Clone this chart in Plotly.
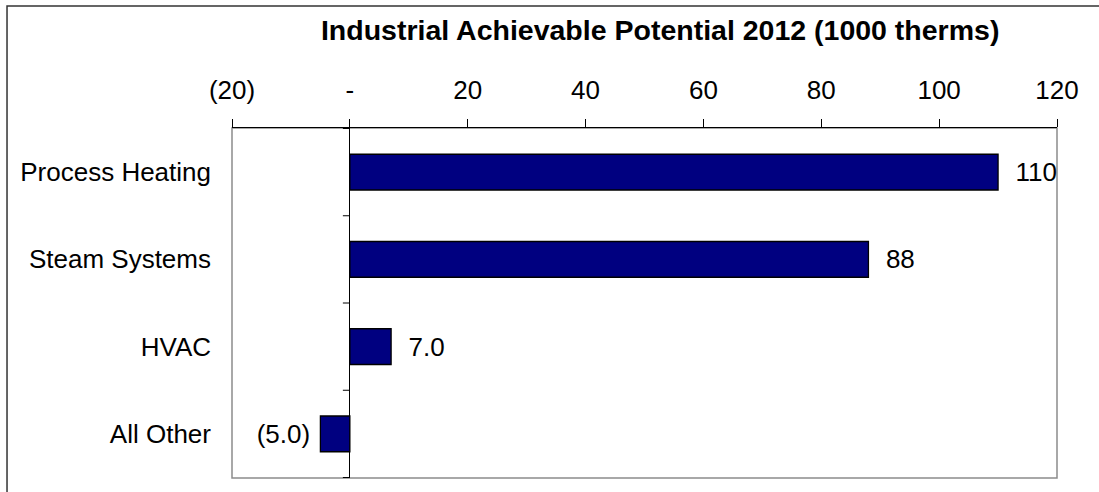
import plotly.graph_objects as go

# Achievable potential by end use, 2012 (1000 therms)
categories = ["Process Heating", "Steam Systems", "HVAC", "All Other"]
potential = [110, 88, 7.0, -5.0]

# Top axis ticks (negative values shown in parentheses, zero as a dash)
tick_values = [-20, 0, 20, 40, 60, 80, 100, 120]
tick_labels = ["(20)", "-", "20", "40", "60", "80", "100", "120"]

title_text = "Industrial Achievable Potential 2012 (1000 therms)"

FONT = "Liberation Sans, Arial, sans-serif"
NBSP = "\u00a0"


def fmt(v):
    """Accounting-style label: one decimal below 10, parentheses for negatives."""
    body = f"{abs(v):.0f}" if abs(v) >= 10 else f"{abs(v):.1f}"
    if v < 0:
        return f"({body})" + NBSP
    return NBSP + NBSP + body


labels = [fmt(v) for v in potential]

fig = go.Figure()
fig.add_trace(
    go.Bar(
        x=potential,
        y=categories,
        orientation="h",
        marker=dict(color="#000080", line=dict(color="#000000", width=1.3)),
        text=labels,
        textposition="outside",
        textfont=dict(family=FONT, size=26, color="#000000"),
        constraintext="none",
        cliponaxis=False,
        hoverinfo="skip",
    )
)

# Category separator ticks on the zero line
n = len(categories)
shapes = []
for b in range(n + 1):
    yb = b - 0.5
    shapes.append(
        dict(
            type="line", xref="x", yref="y",
            xsizemode="pixel", xanchor=0, x0=-7, x1=0,
            y0=yb, y1=yb,
            line=dict(color="#000000", width=1),
        )
    )

# Plot area border (grey) and the outer chart frame
shapes.append(
    dict(type="rect", xref="paper", yref="paper", x0=0, x1=1, y0=0, y1=1,
         line=dict(color="#8c8c8c", width=1.5), layer="below")
)
shapes.append(
    dict(type="rect", xref="paper", yref="paper",
         x0=-0.2727, x1=1.1, y0=-0.2, y1=1.3486,
         line=dict(color="#333333", width=1.5), layer="below")
)

fig.update_layout(
    width=1099,
    height=492,
    margin=dict(l=232, r=42, t=128, b=14),
    paper_bgcolor="#ffffff",
    plot_bgcolor="#ffffff",
    showlegend=False,
    bargap=0.59,
    font=dict(family=FONT, size=26, color="#000000"),
    title=dict(
        text=f"<b>{title_text}</b>",
        font=dict(family=FONT, size=28.5, color="#000000"),
        x=0.519, xref="paper", xanchor="center",
        y=1 - 30 / 492, yref="container", yanchor="middle",
    ),
    xaxis=dict(
        side="top",
        range=[-20, 120],
        tickmode="array",
        tickvals=tick_values,
        ticktext=tick_labels,
        ticks="outside",
        ticklen=8,
        tickcolor="#000000",
        tickwidth=1,
        showline=True,
        linecolor="#000000",
        linewidth=1,
        showgrid=False,
        zeroline=True,
        zerolinecolor="#000000",
        zerolinewidth=1,
        ticklabelstandoff=10,
        tickfont=dict(family=FONT, size=26, color="#000000"),
        fixedrange=True,
    ),
    yaxis=dict(
        type="category",
        categoryorder="array",
        categoryarray=categories,
        autorange="reversed",
        showline=False,
        ticks="",
        showgrid=False,
        ticklabelstandoff=20,
        tickfont=dict(family=FONT, size=26, color="#000000"),
        fixedrange=True,
    ),
    shapes=shapes,
)

fig.write_html("out.html")
